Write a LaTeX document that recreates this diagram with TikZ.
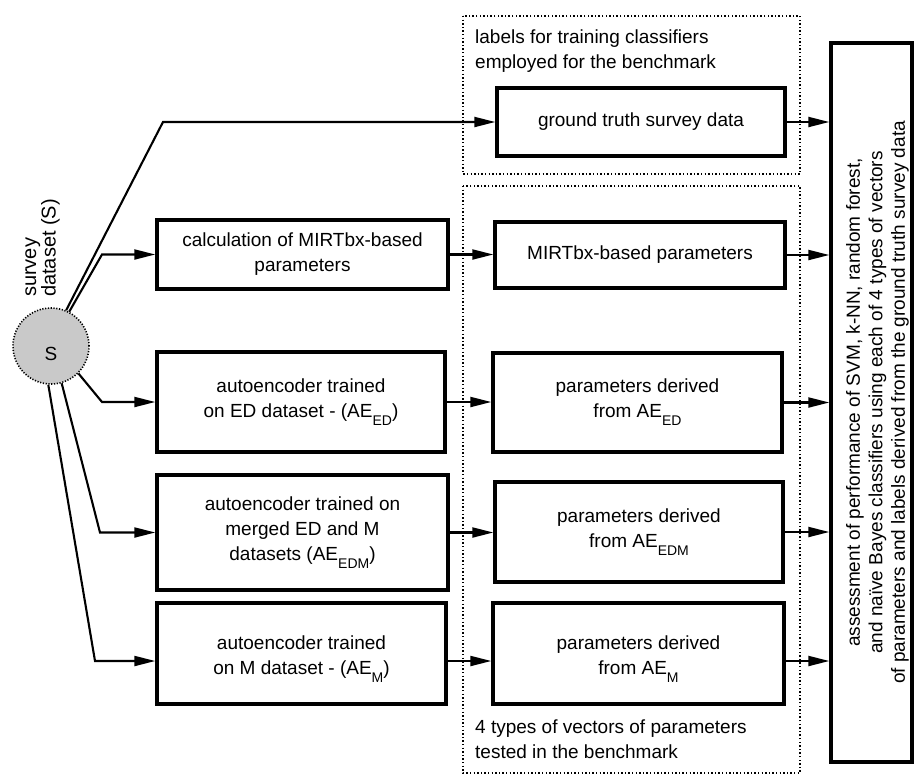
\documentclass[tikz,border=0pt]{standalone}
\usepackage{fontspec}
\setmainfont{Liberation Sans}
\usetikzlibrary{arrows.meta}
\newcommand\sbs[1]{\raisebox{-8pt}{\fontsize{14}{14}\selectfont #1}}
\begin{document}
\begin{tikzpicture}[x=1pt,y=-1pt,
  box/.style={draw, line width=3.4pt, rectangle, inner sep=0pt, align=center, font=\fontsize{19}{25}\selectfont},
  txt/.style={inner sep=0pt, align=center, font=\fontsize{19}{25}\selectfont},
  conn/.style={line width=2.1pt, -{Triangle[length=21pt,width=10pt]}},
  dotbox/.style={line width=1.4pt, dash pattern=on 1.4pt off 2.2pt},
  ]
\fill[white] (0,0) rectangle (915,774);
\useasboundingbox (0,0) rectangle (915,774);

% dotted group frames
\draw[dotbox] (463,16) rectangle (800,174);
\draw[dotbox] (463,186) rectangle (800,773);
\node[txt, align=left, anchor=base west] (t1) at (475,68) {labels for training classifiers\\employed for the benchmark};
\node[txt, align=left, anchor=base west] (t2) at (475,758) {4 types of vectors of parameters\\tested in the benchmark};

% source
\node[circle, draw, line width=1.6pt, dash pattern=on 1.2pt off 1.6pt, fill=black!21,
      minimum size=76pt, inner sep=0pt, font=\fontsize{19}{22}\selectfont] (S) at (51,346) {};
\node[txt] (Sl) at ([yshift=-8pt]S.center) {S};
\node[rotate=90, anchor=south west, inner sep=0pt, align=left,
      font=\fontsize{20}{15}\selectfont] (lab) at (60,297) {survey\\dataset (S)};

% left column
\node[box, minimum width=291pt, minimum height=69pt] (L1) at (302.5,254.5) {calculation of MIRTbx-based\\parameters};
\node[box, minimum width=288pt, minimum height=100pt] (L2) at (301,402) {autoencoder trained\\on ED dataset - (AE\sbs{ED})};
\node[box, minimum width=291pt, minimum height=115pt] (L3) at (302.5,532.5) {autoencoder trained on\\merged ED and M\\datasets (AE\sbs{EDM})};
\node[box, minimum width=289pt, minimum height=101pt] (L4) at (301.5,653.5) {};
\node[txt] (L4t) at ([yshift=-6pt]L4.center) {autoencoder trained\\on M dataset - (AE\sbs{M})};

% middle column
\node[box, minimum width=288pt, minimum height=68pt] (M0) at (641,122) {ground truth survey data};
\node[box, minimum width=290pt, minimum height=66pt] (M1) at (640,255) {MIRTbx-based parameters};
\node[box, minimum width=289pt, minimum height=99pt] (M2) at (637.5,402.5) {parameters derived\\from AE\sbs{ED}};
\node[box, minimum width=288pt, minimum height=100pt] (M3) at (639,532) {parameters derived\\from AE\sbs{EDM}};
\node[box, minimum width=291pt, minimum height=101pt] (M4) at (638.5,653.5) {};
\node[txt] (M4t) at ([yshift=-6pt]M4.center) {parameters derived\\from AE\sbs{M}};

% right box
\node[draw, line width=3.4pt, rectangle, minimum width=81pt, minimum height=719pt, inner sep=0pt] (R) at (871.5,402.5) {};
\node[txt, rotate=90, font=\fontsize{19}{22.5}\selectfont] (Rt) at ([xshift=6pt]R.center) {assessment of performance of SVM, k-NN, random forest,\\and naïve Bayes classifiers using each of 4 types of vectors\\of parameters and labels derived from the ground truth survey data};

\coordinate (L4in) at ([yshift=-7.5pt]L4.west);
\coordinate (L4out) at ([yshift=-7.5pt]L4.east);
\coordinate (M4out) at ([yshift=-7.5pt]M4.east);

% connectors from S
\draw[conn] (S.67) -- (M0.west -| 163,0) -- (M0.west);
\draw[conn] (S.62) -- (L1.west -| 102,0) -- (L1.west);
\draw[conn] (S.-45) -- (L2.west -| 102,0) -- (L2.west);
\draw[conn] (S.-74) -- (L3.west -| 100,0) -- (L3.west);
\draw[conn] (S.-94) -- (L4in -| 95,0) -- (L4in);

% left to middle
\draw[conn] (L1.east) -- (L1.east -| M1.west);
\draw[conn] (L2.east) -- (L2.east -| M2.west);
\draw[conn] (L3.east) -- (L3.east -| M3.west);
\draw[conn] (L4out) -- (L4out -| M4.west);

% middle to right
\draw[conn] (M0.east) -- (M0.east -| R.west);
\draw[conn] (M1.east) -- (M1.east -| R.west);
\draw[conn] (M2.east) -- (M2.east -| R.west);
\draw[conn] (M3.east) -- (M3.east -| R.west);
\draw[conn] (M4out) -- (M4out -| R.west);
\end{tikzpicture}
\end{document}
